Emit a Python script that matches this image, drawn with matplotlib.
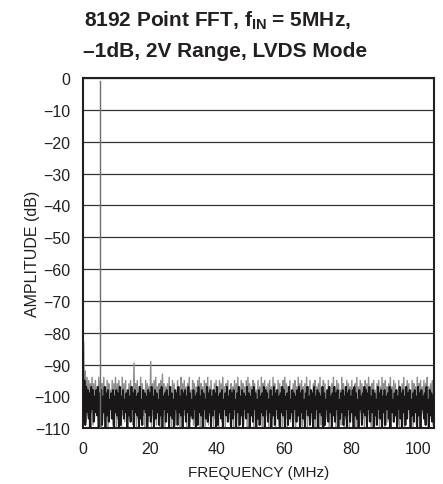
import numpy as np
import matplotlib
matplotlib.use("Agg")
import matplotlib.pyplot as plt
from matplotlib import font_manager

names = {f.name for f in font_manager.fontManager.ttflist}
NARROW = 'Liberation Sans Narrow' if 'Liberation Sans Narrow' in names else 'Liberation Sans'
plt.rcParams['font.family'] = [NARROW, 'DejaVu Sans']
plt.rcParams['mathtext.fontset'] = 'custom'
plt.rcParams['mathtext.rm'] = NARROW + ':bold'
plt.rcParams['mathtext.it'] = NARROW + ':bold'
plt.rcParams['mathtext.bf'] = NARROW + ':bold'

# ---------------- data ----------------
title_lines = ["8192 Point FFT, $f_{IN}$ = 5MHz,", "\u20131dB, 2V Range, LVDS Mode"]
x_label = "FREQUENCY (MHz)"
y_label = "AMPLITUDE (dB)"
x_ticks = [0, 20, 40, 60, 80, 100]
y_ticks = [0, -10, -20, -30, -40, -50, -60, -70, -80, -90, -100, -110]

fund_freq = 5.0      # MHz
fund_level = -1.0    # dB
bin_step = 0.5       # MHz per listed noise sample

gray_top = [
-83, -92, -94, -95, -96, -94, -96, -95, -97, -94,
-95, -96, -94, -97, -95, -96, -98, -95, -96, -94,
-96, -95, -97, -94, -96, -95, -98, -96, -95, -97,
-89.5, -96, -95, -97, -94, -96, -98, -95, -96, -97,
-89, -96, -95, -94, -97, -96, -95, -93, -96, -97,
-96, -94, -97, -95, -96, -98, -95, -97, -94, -96,
-95, -97, -96, -94, -98, -95, -96, -97, -95, -94,
-96, -97, -95, -96, -94, -97, -95, -98, -96, -95,
-97, -95, -96, -94, -97, -96, -95, -98, -96, -97,
-95, -96, -94, -97, -95, -96, -97, -95, -94, -96,
-97, -95, -96, -98, -95, -97, -94, -96, -95, -97,
-96, -95, -97, -94, -96, -98, -95, -96, -97, -95,
-94, -96, -97, -95, -98, -96, -95, -97, -94, -96,
-95, -97, -96, -94, -97, -95, -98, -96, -95, -97,
-96, -94, -97, -95, -96, -98, -95, -97, -96, -94,
-97, -95, -96, -98, -94, -96, -97, -95, -96, -97,
-95, -98, -96, -94, -97, -95, -96, -97, -95, -96,
-94, -97, -96, -95, -98, -96, -95, -97, -94, -96,
-95, -97, -96, -94, -97, -95, -96, -98, -95, -97,
-96, -94, -97, -95, -96, -98, -95, -96, -97, -94,
-96, -95, -97, -95, -96, -94, -97, -96, -95, -97,
]

black_top = [
-86, -95, -97, -98, -99, -97, -98, -100, -98, -97,
-99, -98, -100, -97, -99, -98, -101, -99, -98, -100,
-98, -99, -97, -100, -98, -101, -99, -98, -100, -97,
-99, -98, -100, -99, -97, -101, -98, -99, -100, -98,
-99, -97, -100, -98, -99, -101, -98, -97, -100, -99,
-98, -100, -97, -99, -101, -98, -99, -97, -100, -98,
-99, -98, -100, -97, -99, -101, -98, -100, -99, -97,
-100, -98, -99, -101, -97, -99, -98, -100, -98, -99,
-97, -100, -99, -98, -101, -99, -97, -100, -98, -99,
-98, -101, -99, -97, -100, -98, -99, -100, -97, -99,
-100, -98, -97, -99, -101, -98, -100, -99, -97, -98,
-99, -101, -98, -100, -97, -99, -98, -100, -99, -97,
-98, -100, -99, -97, -101, -98, -99, -100, -98, -97,
-99, -98, -101, -99, -97, -100, -98, -99, -97, -100,
-98, -99, -100, -97, -99, -101, -98, -97, -100, -99,
-97, -99, -98, -101, -99, -98, -100, -97, -99, -98,
-100, -98, -97, -99, -101, -98, -100, -99, -97, -98,
-99, -97, -100, -98, -99, -101, -97, -99, -98, -100,
-98, -100, -99, -97, -98, -101, -99, -98, -100, -97,
-99, -98, -100, -97, -99, -98, -101, -99, -98, -100,
-97, -99, -98, -100, -99, -97, -101, -98, -99, -100,
]

noise_low = [
-104, -108, -106, -110, -105, -109, -107, -104, -110, -106,
-110, -105, -108, -106, -110, -104, -107, -109, -105, -110,
-107, -104, -110, -106, -108, -105, -110, -107, -104, -109,
-105, -110, -107, -104, -109, -106, -110, -105, -108, -104,
-110, -106, -105, -109, -104, -110, -107, -106, -110, -105,
-108, -104, -110, -106, -109, -105, -107, -110, -104, -108,
-106, -110, -105, -108, -104, -109, -110, -106, -105, -110,
-104, -107, -110, -105, -109, -106, -104, -110, -107, -105,
-110, -106, -108, -104, -110, -105, -107, -109, -104, -110,
-106, -105, -110, -107, -104, -109, -106, -110, -105, -108,
-104, -110, -106, -105, -109, -107, -110, -104, -108, -106,
-110, -105, -107, -104, -110, -106, -109, -105, -110, -104,
-107, -110, -105, -108, -106, -104, -110, -107, -105, -109,
-110, -104, -106, -110, -105, -108, -107, -104, -110, -106,
-105, -109, -110, -104, -107, -106, -110, -105, -108, -104,
-110, -106, -105, -109, -104, -110, -107, -106, -110, -105,
-108, -104, -110, -106, -109, -105, -107, -110, -104, -108,
-106, -110, -105, -104, -109, -107, -110, -106, -105, -110,
-104, -108, -106, -110, -105, -107, -104, -109, -110, -106,
-105, -110, -107, -104, -108, -106, -110, -105, -109, -104,
-110, -106, -105, -108, -104, -110, -107, -105, -109, -106,
]

# ---------------- figure ----------------
fig = plt.figure(figsize=(4.43, 4.85), dpi=100)
ax = fig.add_axes([0.187, 0.115, 0.793, 0.722])

def zigzag(tops, lows, phase):
    n = len(tops)
    f = np.arange(n) * bin_step
    xs = np.empty(2 * n)
    ys = np.empty(2 * n)
    xs[0::2] = f + phase
    xs[1::2] = f + phase + bin_step / 2
    ys[0::2] = tops
    ys[1::2] = lows
    return xs, ys

gx, gy = zigzag(gray_top, noise_low, 0.25)
bx, by = zigzag(black_top, noise_low[::-1], 0.0)

ax.plot(gx, gy, color='#8c8c8c', lw=1.0, zorder=2)
ax.plot(bx, by, color='#1a1718', lw=1.3, zorder=3)
ax.plot([fund_freq, fund_freq], [-110, fund_level], color='#6f6f6f', lw=1.0, zorder=4)

ax.set_xlim(0, 104.8)
ax.set_ylim(-110, 0)
ax.set_xticks(x_ticks)
ax.set_yticks(y_ticks)
ax.set_yticklabels([("\u2212" + str(-v)) if v < 0 else str(v) for v in y_ticks])
ax.yaxis.grid(True, color='#333333', lw=0.9, zorder=1)
ax.xaxis.grid(False)
ax.set_axisbelow(True)
ax.tick_params(length=0, labelsize=11.5, colors='#231f20')
ax.tick_params(axis='y', pad=9)
ax.tick_params(axis='x', pad=9)
for s in ax.spines.values():
    s.set_linewidth(1.5)
    s.set_color('#231f20')

ax.set_xlabel(x_label, fontsize=11, color='#231f20', labelpad=7)
ax.set_ylabel(y_label, fontsize=11.5, color='#231f20')
ax.yaxis.set_label_coords(-0.122, 0.5)

fig.text(0.19, 0.945, title_lines[0], fontsize=15, fontweight='bold',
         color='#231f20', ha='left', va='baseline')
fig.text(0.187, 0.883, title_lines[1], fontsize=15, fontweight='bold',
         color='#231f20', ha='left', va='baseline')

fig.savefig('out.png', dpi=100)
